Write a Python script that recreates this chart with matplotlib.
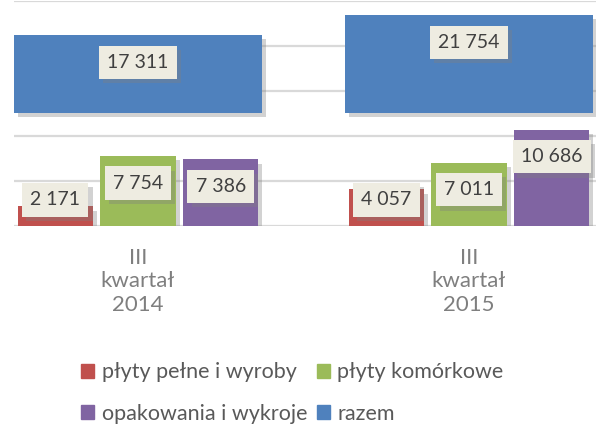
import matplotlib

matplotlib.use("Agg")
import matplotlib.pyplot as plt
import matplotlib.patheffects as pe
import numpy as np
from matplotlib.patches import Patch

plt.rcParams["font.family"] = ["Lato", "DejaVu Sans"]

# --------------------------------------------------------------------------- #
# Data
# --------------------------------------------------------------------------- #
CATEGORIES = ["III\nkwartał\n2014", "III\nkwartał\n2015"]
SERIES = ["płyty pełne i wyroby", "płyty komórkowe", "opakowania i wykroje"]
VALUES = [
    [2171, 4057],    # płyty pełne i wyroby
    [7754, 7011],    # płyty komórkowe
    [7386, 10686],   # opakowania i wykroje
]
TOTAL_LABEL = "razem"
TOTAL = [17311, 21754]

RED = "#c0504d"
GREEN = "#9bbb59"
PURPLE = "#8064a2"
BLUE = "#4f81bd"
COLORS = [RED, GREEN, PURPLE]
GRID = "#d9d9d9"
LABEL_BG = "#eeece1"
LABEL_INK = "#404040"
AXIS_INK = "#7f7f7f"
LEGEND_INK = "#595959"


def fmt(v):
    return f"{v:,}".replace(",", " ")


shadow = [pe.SimplePatchShadow(offset=(3, -3), shadow_rgbFace="#808080", alpha=0.35), pe.Normal()]

fig = plt.figure(figsize=(5.96, 4.24), dpi=100)
ax = fig.add_axes([14 / 596, 1 - 226 / 424, 1 - 14 / 596, 225.5 / 424])
ax2 = ax.twinx()

x = np.arange(len(CATEGORIES))
bw = 0.227
step = 0.25

ax.set_ylim(0, 25000)
ax.yaxis.grid(True, color=GRID, lw=1.6)
ax.set_axisbelow(True)
ax.set_xlim(-0.3746, 1.3837)

for i, (name, vals, col) in enumerate(zip(SERIES, VALUES, COLORS)):
    pos = x + (i - 1) * step
    bars = ax.bar(pos, vals, width=bw, color=col, zorder=2)
    for b in bars:
        b.set_path_effects(shadow)
    for p, v in zip(pos, vals):
        t = ax.annotate(fmt(v), (p, max(v - 3000, 2900)), ha="center", va="center",
                        fontsize=14, color=LABEL_INK, zorder=5,
                        bbox=dict(boxstyle="square,pad=0.42", fc=LABEL_BG, ec="none"))
        t.get_bbox_patch().set_path_effects(shadow)

# razem on the secondary axis (-25000..25000)
ax2.set_ylim(-25000, 25000)
tb = ax2.bar(x, TOTAL, width=0.75, color=BLUE, zorder=2)
for b in tb:
    b.set_path_effects(shadow)
for p, v in zip(x, TOTAL):
    t = ax2.annotate(fmt(v), (p, v - 6000), ha="center", va="center",
                     fontsize=14, color=LABEL_INK, zorder=5,
                     bbox=dict(boxstyle="square,pad=0.42", fc=LABEL_BG, ec="none"))
    t.get_bbox_patch().set_path_effects(shadow)
ax2.set_yticks([])

for a in (ax, ax2):
    for s in a.spines.values():
        s.set_visible(False)
ax.set_yticks(np.arange(0, 25001, 5000), [""] * 6)
ax.tick_params(axis="y", length=0)
ax.set_xticks(x, CATEGORIES)
ax.tick_params(axis="x", length=0, pad=16, labelsize=16, labelcolor=AXIS_INK)

handles = [Patch(color=RED), Patch(color=PURPLE), Patch(color=GREEN), Patch(color=BLUE)]
labels = [SERIES[0], SERIES[2], SERIES[1], TOTAL_LABEL]
fig.legend(handles, labels, ncol=2, frameon=False, loc="upper left",
           bbox_to_anchor=(62 / 596, 1 - 343 / 424), fontsize=15.5,
           labelcolor=LEGEND_INK, handlelength=0.6, handleheight=0.6,
           handletextpad=0.35, columnspacing=0.45, labelspacing=1.0)

fig.savefig("out.png", dpi=100, facecolor="white")
